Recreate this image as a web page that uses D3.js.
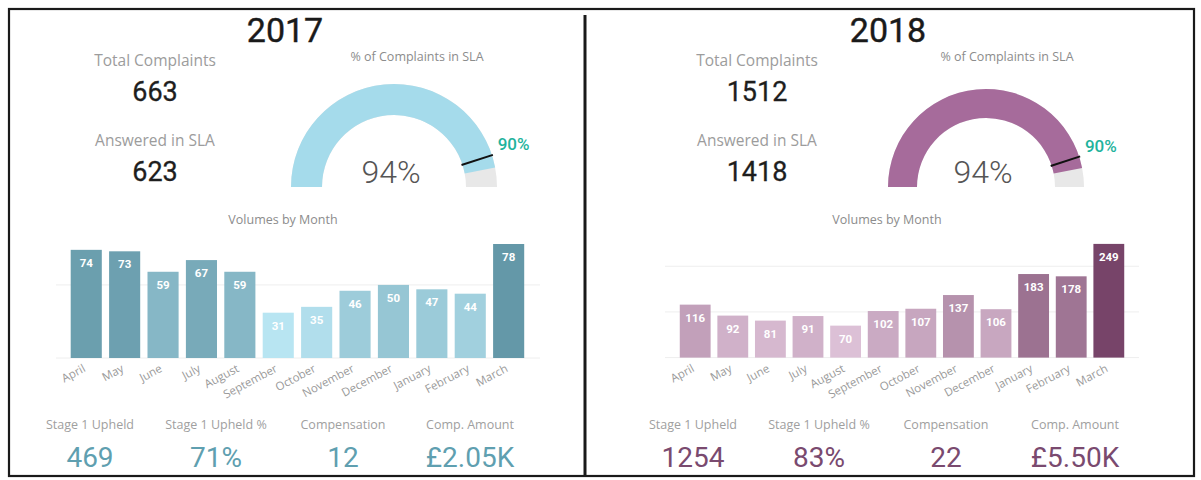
<!DOCTYPE html>
<html lang="en">
<head>
    <meta charset="UTF-8">
    <title>Complaints 2017 vs 2018</title>
    <script src='https://d3js.org/d3.v7.min.js' type='text/javascript'></script>
    <style>
        body { margin: 0; background: #fff; }
        text { font-family: 'Open Sans', sans-serif; }
        .din { font-family: Roboto, sans-serif; }
    </style>
</head>
<body>
<script>
    var width = 1201, height = 480;

    // data
    var years = ['2017', '2018'];
    var months = ['April', 'May', 'June', 'July', 'August', 'September', 'October',
        'November', 'December', 'January', 'February', 'March'];
    var vol2017 = [74, 73, 59, 67, 59, 31, 35, 46, 50, 47, 44, 78];
    var vol2018 = [116, 92, 81, 91, 70, 102, 107, 137, 106, 183, 178, 249];
    var totalComplaints = [663, 1512];
    var answeredInSla = [623, 1418];
    var slaTarget = [0.9, 0.9];
    var kpiLabels = ['Stage 1 Upheld', 'Stage 1 Upheld %', 'Compensation', 'Comp. Amount'];
    var kpi2017 = ['469', '71%', '12', '£2.05K'];
    var kpi2018 = ['1254', '83%', '22', '£5.50K'];
    var grid2017 = [0, 50];
    var grid2018 = [0, 100, 200];

    var svg = d3.select('body').append('svg').attr('width', width).attr('height', height);

    // outer frame + divider
    svg.append('rect').attr('x', 9).attr('y', 9).attr('width', 1185).attr('height', 467)
        .attr('fill', 'none').attr('stroke', '#1a1a1a').attr('stroke-width', 2.2);
    svg.append('line').attr('x1', 585).attr('x2', 585).attr('y1', 15).attr('y2', 476)
        .attr('stroke', '#1a1a1a').attr('stroke-width', 3);

    // layout of each panel
    var panels = [
        {
            i: 0, titleX: 285, kpiX: 155, gx: 394, gy: 187, r0: 72, r1: 103, gLabelX: 417,
            volX: 283, band: [63.4, 531.5], pad: 0.19, y0: 358, yTop: 244, grid: [56, 540],
            kpiCx: [90, 216, 343, 470],
            values: vol2017, gridVals: grid2017, kpis: kpi2017,
            gaugeColor: '#a5dbeb', barColors: ['#b8e5f2', '#6498a8'], kpiColor: '#5f9fb0'
        },
        {
            i: 1, titleX: 888, kpiX: 757, gx: 986, gy: 187, r0: 69, r1: 98, gLabelX: 1007,
            volX: 887, band: [673, 1131], pad: 0.18, y0: 357.6, yTop: 243.9, grid: [665, 1139],
            kpiCx: [693, 819, 946, 1075],
            values: vol2018, gridVals: grid2018, kpis: kpi2018,
            gaugeColor: '#a66b9b', barColors: ['#dcc0d6', '#774469'], kpiColor: '#7a4a6f'
        }
    ];

    panels.forEach(function (p) {
        var g = svg.append('g');

        // year title
        g.append('text').attr('class', 'din').attr('x', p.titleX).attr('y', 42)
            .attr('text-anchor', 'middle').attr('font-size', 34).attr('font-weight', 400)
            .attr('fill', '#1a1a1a').attr('stroke', '#1a1a1a').attr('stroke-width', 0.4)
            .text(years[p.i]);

        // cards
        var cards = [
            {label: 'Total Complaints', value: totalComplaints[p.i], y: 66},
            {label: 'Answered in SLA', value: answeredInSla[p.i], y: 146}
        ];
        cards.forEach(function (c) {
            g.append('text').attr('x', p.kpiX).attr('y', c.y).attr('text-anchor', 'middle')
                .attr('font-size', 15.5).attr('fill', '#9c9c9c').text(c.label);
            g.append('text').attr('class', 'din').attr('x', p.kpiX).attr('y', c.y + 35)
                .attr('text-anchor', 'middle').attr('font-size', 27).attr('font-weight', 400)
                .attr('fill', '#1e1e1e').attr('stroke', '#1e1e1e').attr('stroke-width', 0.3)
                .text(c.value);
        });

        // gauge
        var pct = answeredInSla[p.i] / totalComplaints[p.i];
        var ang = d3.scaleLinear().domain([0, 1]).range([-Math.PI / 2, Math.PI / 2]);
        var arc = d3.arc().innerRadius(p.r0).outerRadius(p.r1);
        var gg = g.append('g').attr('transform', 'translate(' + p.gx + ',' + p.gy + ')');
        gg.append('path').attr('fill', '#e8e8e8')
            .attr('d', arc({startAngle: ang(0), endAngle: ang(1)}));
        gg.append('path').attr('fill', p.gaugeColor)
            .attr('d', arc({startAngle: ang(0), endAngle: ang(pct)}));
        var ta = ang(slaTarget[p.i]);
        gg.append('line')
            .attr('x1', Math.sin(ta) * (p.r0 - 1)).attr('y1', -Math.cos(ta) * (p.r0 - 1))
            .attr('x2', Math.sin(ta) * (p.r1 + 1)).attr('y2', -Math.cos(ta) * (p.r1 + 1))
            .attr('stroke', '#111').attr('stroke-width', 2);
        gg.append('text').attr('class', 'din')
            .attr('x', Math.sin(ta) * (p.r1 + 6)).attr('y', -Math.cos(ta) * (p.r1 + 6) - 3)
            .attr('font-size', 17).attr('font-weight', 500).attr('fill', '#1fb39d')
            .text(d3.format('.0%')(slaTarget[p.i]));
        gg.append('text').attr('class', 'din').attr('x', -3).attr('y', -4)
            .attr('text-anchor', 'middle').attr('font-size', 32).attr('font-weight', 300)
            .attr('fill', '#555').text(d3.format('.0%')(pct));
        g.append('text').attr('x', p.gLabelX).attr('y', 61).attr('text-anchor', 'middle')
            .attr('font-size', 12.5).attr('fill', '#8c8c8c').text('% of Complaints in SLA');

        // volumes by month
        g.append('text').attr('x', p.volX).attr('y', 224).attr('text-anchor', 'middle')
            .attr('font-size', 12.5).attr('fill', '#8c8c8c').text('Volumes by Month');

        var x = d3.scaleBand().domain(months).range(p.band).padding(p.pad);
        var vmax = d3.max(p.values);
        var y = d3.scaleLinear().domain([0, vmax]).range([p.y0, p.yTop]);
        var color = d3.scaleLinear().domain([d3.min(p.values), vmax]).range(p.barColors);

        g.selectAll('line.grid').data(p.gridVals).join('line').attr('class', 'grid')
            .attr('x1', p.grid[0]).attr('x2', p.grid[1])
            .attr('y1', function (d) { return y(d) }).attr('y2', function (d) { return y(d) })
            .attr('stroke', '#eeeeee').attr('stroke-width', 1);

        var bars = g.selectAll('g.bar').data(p.values).join('g').attr('class', 'bar');
        bars.append('rect')
            .attr('x', function (d, i) { return x(months[i]) })
            .attr('width', x.bandwidth())
            .attr('y', function (d) { return y(d) })
            .attr('height', function (d) { return p.y0 - y(d) })
            .attr('fill', function (d) { return color(d) });
        bars.append('text').attr('class', 'din')
            .attr('x', function (d, i) { return x(months[i]) + x.bandwidth() / 2 })
            .attr('y', function (d) { return y(d) + 17 })
            .attr('text-anchor', 'middle').attr('font-size', 11.5).attr('font-weight', 700)
            .attr('fill', '#fff').text(function (d) { return d });

        g.selectAll('text.month').data(months).join('text').attr('class', 'month')
            .attr('transform', function (d) {
                return 'translate(' + (x(d) + x.bandwidth() / 2) + ',371) rotate(-28)';
            })
            .attr('text-anchor', 'end').attr('font-size', 11.5).attr('fill', '#9a9a9a')
            .text(function (d) { return d });

        // bottom kpis
        kpiLabels.forEach(function (lab, k) {
            g.append('text').attr('x', p.kpiCx[k]).attr('y', 429).attr('text-anchor', 'middle')
                .attr('font-size', 12.5).attr('fill', '#a0a0a0').text(lab);
            g.append('text').attr('class', 'din').attr('x', p.kpiCx[k]).attr('y', 467)
                .attr('text-anchor', 'middle').attr('font-size', 28)
                .attr('fill', p.kpiColor).text(p.kpis[k]);
        });
    });
</script>
</body>
</html>
